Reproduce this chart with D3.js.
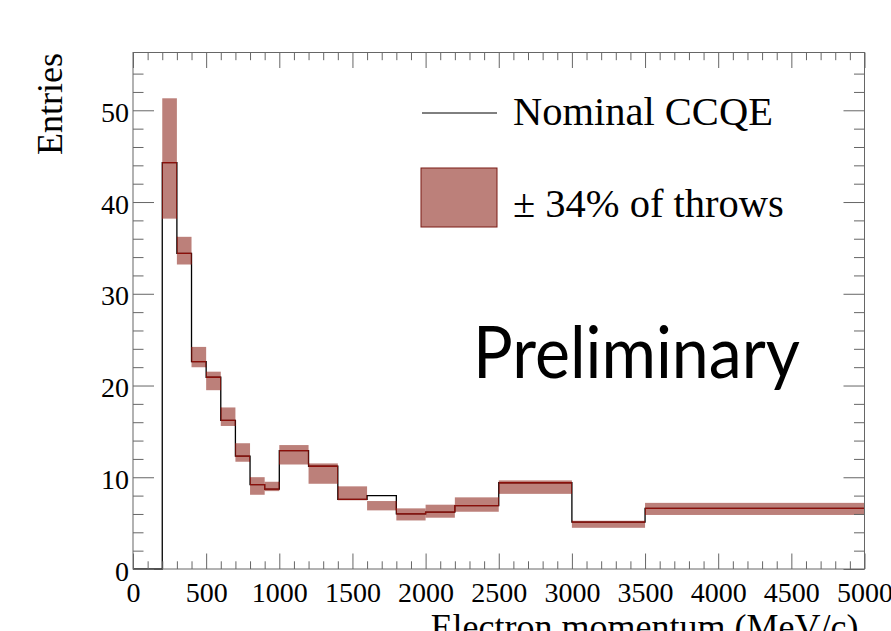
<!DOCTYPE html>
<html lang="en">
<head>
  <meta charset="UTF-8">
  <title>Electron momentum</title>
  <script src="https://d3js.org/d3.v7.min.js"></script>
  <style>
    body { margin: 0; background: #fff; }
    svg { display: block; font-family: "Liberation Serif", "Times New Roman", serif; }
    .axis path { display: none; }
    .axis line { stroke: #666; }
    .axis text { font-size: 28px; fill: #000; font-family: "Liberation Serif", serif; }
  </style>
</head>
<body>
<svg width="891" height="631"></svg>

<script>
  // bin edges (MeV/c) and contents
  const binEdges = [0, 200, 300, 400, 500, 600, 700, 800, 900, 1000, 1200, 1400, 1600, 1800, 2000, 2200, 2500, 3000, 3500, 5000];
  const nominal  = [0, 44.3, 34.4, 22.6, 20.9, 16.2, 12.3, 9.2, 8.7, 12.9, 11.2, 7.6, 8.0, 6.0, 6.2, 6.9, 9.4, 5.1, 6.6];
  const bandLow  = [null, 38.3, 33.3, 22.1, 19.6, 15.7, 11.8, 8.2, 8.6, 11.5, 9.4, 7.6, 6.5, 5.4, 5.7, 6.35, 8.3, 4.6, 6.0];
  const bandHigh = [null, 51.2, 36.1, 24.1, 21.4, 17.5, 13.6, 9.9, 9.4, 13.4, 11.4, 8.9, 7.3, 6.5, 6.9, 7.7, 9.55, 5.15, 7.1];
  const xTicks = [0, 500, 1000, 1500, 2000, 2500, 3000, 3500, 4000, 4500, 5000];
  const yTicks = [0, 10, 20, 30, 40, 50];

  const svg = d3.select("svg"),
        margin = {top: 52.5, right: 26.5, bottom: 62, left: 133},
        width = +svg.attr("width") - margin.left - margin.right,
        height = +svg.attr("height") - margin.top - margin.bottom,
        g = svg.append("g").attr("transform", `translate(${margin.left},${margin.top})`);

  const bandColor = "rgb(143,43,33)";

  const x = d3.scaleLinear().domain([0, 5000]).range([0, width]);
  const y = d3.scaleLinear().domain([0, 56.3]).range([height, 0]);

  const minorX = d3.range(0, 5001, 100).filter(v => v % 500 !== 0);
  const minorY = d3.range(0, 56, 2).filter(v => v % 10 !== 0);

  const pts = nominal.map((v, i) => [binEdges[i], v]);
  pts.push([binEdges[binEdges.length - 1], nominal[nominal.length - 1]]);
  const step = d3.line().x(d => x(d[0])).y(d => y(d[1])).curve(d3.curveStepAfter);

  const bins = bandLow.map((lo, i) => ({x0: binEdges[i], x1: binEdges[i + 1], lo, hi: bandHigh[i]}))
                      .filter(d => d.lo !== null);

  // nominal histogram outline
  g.append("path")
    .datum(pts)
    .attr("fill", "none")
    .attr("stroke", "#000")
    .attr("stroke-width", 1.3)
    .attr("d", step);

  // +-34% band
  const bandRect = sel => sel
      .attr("x", d => x(d.x0))
      .attr("width", d => x(d.x1) - x(d.x0))
      .attr("y", d => y(d.hi) - 1)
      .attr("height", d => y(d.lo) - y(d.hi) + 2);

  g.append("g")
    .selectAll("rect")
    .data(bins)
    .join("rect")
      .call(bandRect)
      .attr("fill", bandColor)
      .attr("fill-opacity", 0.6);

  // where the outline runs under the band it shows dark red
  g.append("clipPath").attr("id", "bandClip")
    .selectAll("rect")
    .data(bins)
    .join("rect")
      .call(bandRect);
  g.append("path")
    .datum(pts)
    .attr("clip-path", "url(#bandClip)")
    .attr("fill", "none")
    .attr("stroke", "#8a0f0a")
    .attr("stroke-width", 1.3)
    .attr("d", step);

  // axes: major + minor ticks on all four sides, pointing inward
  g.append("g").attr("class", "axis")
    .attr("transform", `translate(0,${height})`)
    .call(d3.axisBottom(x).tickValues(xTicks).tickSize(-15.5).tickPadding(13).tickFormat(d3.format("d")));
  g.append("g").attr("class", "axis")
    .attr("transform", `translate(0,${height})`)
    .call(d3.axisBottom(x).tickValues(minorX).tickSize(-7.7).tickFormat(""));
  g.append("g").attr("class", "axis")
    .call(d3.axisTop(x).tickValues(xTicks).tickSize(-15.5).tickFormat(""));
  g.append("g").attr("class", "axis")
    .call(d3.axisTop(x).tickValues(minorX).tickSize(-7.7).tickFormat(""));

  g.append("g").attr("class", "axis")
    .call(d3.axisLeft(y).tickValues(yTicks).tickSize(-21).tickPadding(4).tickFormat(d3.format("d")));
  g.append("g").attr("class", "axis")
    .call(d3.axisLeft(y).tickValues(minorY).tickSize(-10.5).tickFormat(""));
  g.append("g").attr("class", "axis")
    .attr("transform", `translate(${width},0)`)
    .call(d3.axisRight(y).tickValues(yTicks).tickSize(-21).tickFormat(""));
  g.append("g").attr("class", "axis")
    .attr("transform", `translate(${width},0)`)
    .call(d3.axisRight(y).tickValues(minorY).tickSize(-10.5).tickFormat(""));

  // y-axis tick labels sit a bit lower than centered in ROOT
  g.selectAll(".axis text").filter(function() { return d3.select(this).attr("dy") === "0.32em"; })
    .attr("dy", "0.4em");

  // frame
  g.append("rect")
    .attr("width", width).attr("height", height)
    .attr("fill", "none").attr("stroke", "#666").attr("stroke-width", 1);

  // axis titles (cut by the page edge, as in the original)
  svg.append("text")
    .attr("transform", "translate(62,53) rotate(-90)")
    .attr("text-anchor", "end")
    .attr("font-size", 36)
    .text("Entries");
  svg.append("text")
    .attr("x", margin.left + width - 6).attr("y", 639)
    .attr("text-anchor", "end")
    .attr("font-size", 36)
    .text("Electron momentum (MeV/c)");

  // legend
  const leg = svg.append("g");
  leg.append("line")
    .attr("x1", 422).attr("x2", 497).attr("y1", 113).attr("y2", 113)
    .attr("stroke", "#000").attr("stroke-width", 1);
  leg.append("text").attr("x", 513).attr("y", 125).attr("font-size", 40.5).text("Nominal CCQE");
  leg.append("rect")
    .attr("x", 421).attr("y", 168).attr("width", 76).attr("height", 59)
    .attr("fill", bandColor).attr("fill-opacity", 0.6)
    .attr("stroke", "#7a1a14").attr("stroke-width", 1);
  leg.append("text").attr("x", 513).attr("y", 217).attr("font-size", 40.5).text("\u00b1 34% of throws");

  svg.append("text")
    .attr("x", 473).attr("y", 378)
    .attr("font-family", "Lato, 'Open Sans', sans-serif")
    .attr("font-size", 72)
    .attr("textLength", 327).attr("lengthAdjust", "spacingAndGlyphs")
    .text("Preliminary");
</script>
</body>
</html>
